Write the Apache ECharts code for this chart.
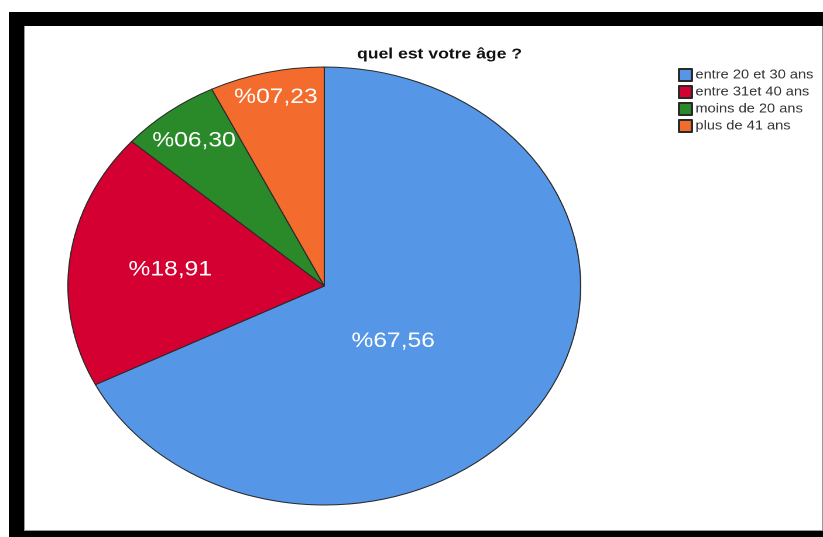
<!DOCTYPE html>
<html>
<head>
<meta charset="utf-8">
<script src="https://cdn.jsdelivr.net/npm/echarts@6/dist/echarts.min.js"></script>
<style>
  html, body { margin: 0; padding: 0; background: #fff; width: 823px; height: 537px; overflow: hidden; }
  #frame { position: absolute; left: 9px; top: 12px; width: 814px; height: 525px; background: #000; }
  #panel { position: absolute; left: 24px; top: 26px; width: 797px; height: 504px; background: #fff;
           border-left: 1px solid #999; border-right: 1px solid #999; border-bottom: 1px solid #999; }
  #chart { position: absolute; left: 0; top: 0; width: 703px; height: 537px;
           transform: scaleX(1.1707); transform-origin: 0 0; }
</style>
</head>
<body>
<div id="frame"></div>
<div id="panel"></div>
<div id="chart"></div>
<script>
// ---- data ----
const titleText = 'quel est votre âge ?';
const categories = ['entre 20 et 30 ans', 'entre 31et 40 ans', 'moins de 20 ans', 'plus de 41 ans'];
const values = [67.56, 18.91, 6.30, 7.23];

// ---- style ----
const colors = ['#5596e6', '#d40031', '#2a8a2a', '#f36c2e'];
const labelNudges = [[-37, -4], [-20, -2], [-43, -56], [-16, -79]];
const fontFamily = 'Liberation Sans, Arial, Helvetica, sans-serif';

function fmt(v) {
  return '%' + v.toFixed(2).replace('.', ',').padStart(5, '0');
}

const chart = echarts.init(document.getElementById('chart'), null, { renderer: 'canvas', devicePixelRatio: 2 });
chart.setOption({
  animation: false,
  backgroundColor: 'transparent',
  color: colors,
  title: {
    text: titleText,
    left: 305,
    top: 47,
    padding: 0,
    textStyle: { fontFamily: fontFamily, fontSize: 15, fontWeight: 'bold', color: '#111' }
  },
  legend: {
    orient: 'vertical',
    left: 579,
    top: 68,
    padding: 0,
    itemWidth: 11,
    itemHeight: 12,
    itemGap: 3,
    icon: 'rect',
    data: categories,
    textStyle: { fontFamily: fontFamily, fontSize: 12.5, color: '#333', lineHeight: 13, padding: [0, 0, 0, -2] }
  },
  series: [{
    type: 'pie',
    center: [277, 286],
    radius: 219,
    startAngle: 90,
    clockwise: true,
    avoidLabelOverlap: false,
    itemStyle: { borderColor: '#2a2a2a', borderWidth: 1 },
    label: {
      show: true,
      position: 'inside',
      color: '#fff',
      fontFamily: fontFamily,
      fontSize: 21,
      formatter: function (p) { return fmt(p.value); }
    },
    labelLine: { show: false },
    emphasis: { disabled: true },
    labelLayout: function (p) {
      const n = labelNudges[p.dataIndex];
      return { dx: n[0], dy: n[1] };
    },
    data: categories.map(function (c, i) { return { name: c, value: values[i] }; })
  }]
});
</script>
</body>
</html>
